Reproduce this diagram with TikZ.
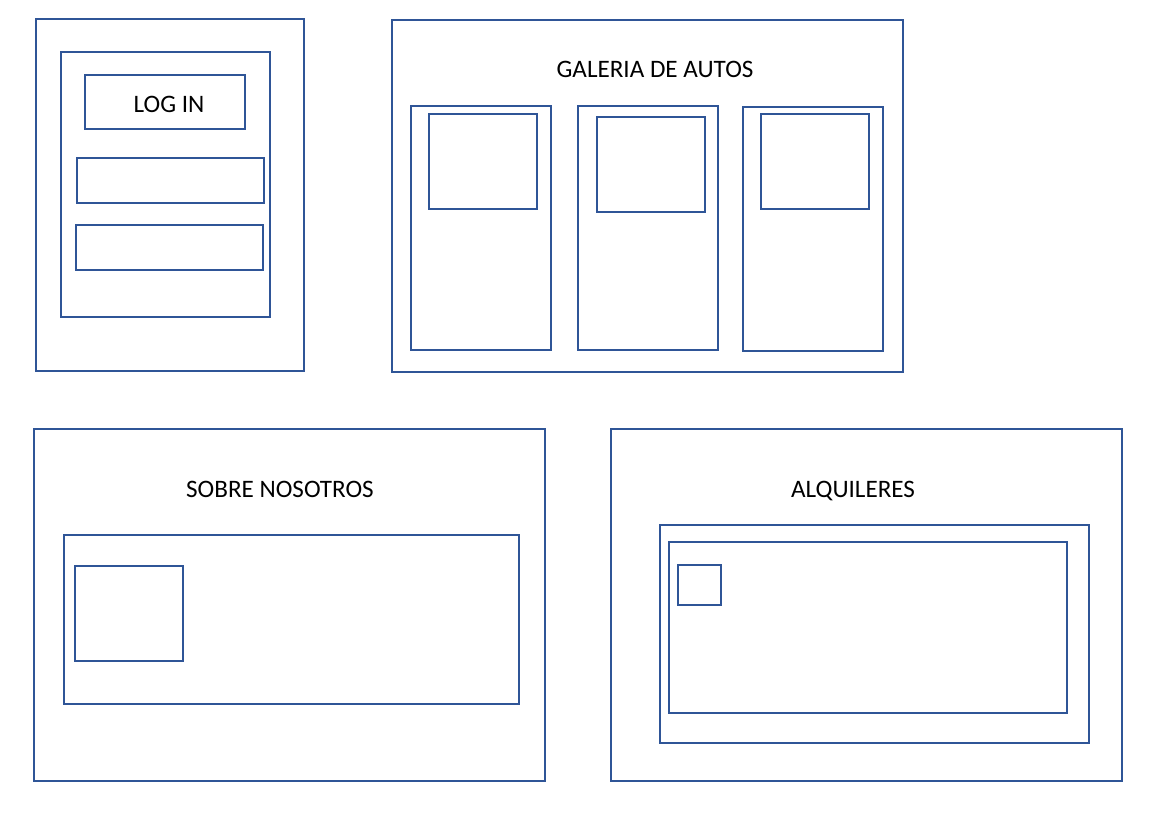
\documentclass[tikz,border=0pt]{standalone}
\usepackage{fontspec}
\setmainfont{Carlito}
\usetikzlibrary{positioning}
\definecolor{wireblue}{HTML}{2F5597}
\tikzset{
  frame/.style={draw=wireblue, line width=1.1pt},
  caption/.style={font=\fontsize{14.3}{16}\selectfont, text=black, inner sep=0pt, anchor=base}
}

\begin{document}
\begin{tikzpicture}[x=0.02cm,y=-0.02cm]
              \useasboundingbox (0,0) rectangle (1169,814);

              % log in panel
              \draw[frame] (36,19) rectangle (304,371);
              \draw[frame] (61,52) rectangle (270,317);
              \draw[frame] (85,75) rectangle (245,129);
              \node[caption] (login) at (169,113) {LOG IN};
              \draw[frame] (77,158) rectangle (264,203);
              \draw[frame] (76,225) rectangle (263,270);

              % galeria
              \draw[frame] (392,20) rectangle (903,372);
              \node[caption] (galeria) at (655,78) {GALERIA DE AUTOS};
              \draw[frame] (411,106) rectangle (551,350);
              \draw[frame] (429,114) rectangle (537,209);
              \draw[frame] (578,106) rectangle (718,350);
              \draw[frame] (597,117) rectangle (705,212);
              \draw[frame] (743,107) rectangle (883,351);
              \draw[frame] (761,114) rectangle (869,209);

              % sobre nosotros
              \draw[frame] (34,429) rectangle (545,781);
              \node[caption] (sobre) at (280,497) {SOBRE NOSOTROS};
              \draw[frame] (64,535) rectangle (519,704);
              \draw[frame] (75,566) rectangle (183,661);

              % alquileres
              \draw[frame] (611,429) rectangle (1122,781);
              \node[caption] (alquileres) at (853,497) {ALQUILERES};
              \draw[frame] (660,525) rectangle (1089,743);
              \draw[frame] (669,542) rectangle (1067,713);
              \draw[frame] (678,565) rectangle (721,605);
            \end{tikzpicture}
\end{document}
